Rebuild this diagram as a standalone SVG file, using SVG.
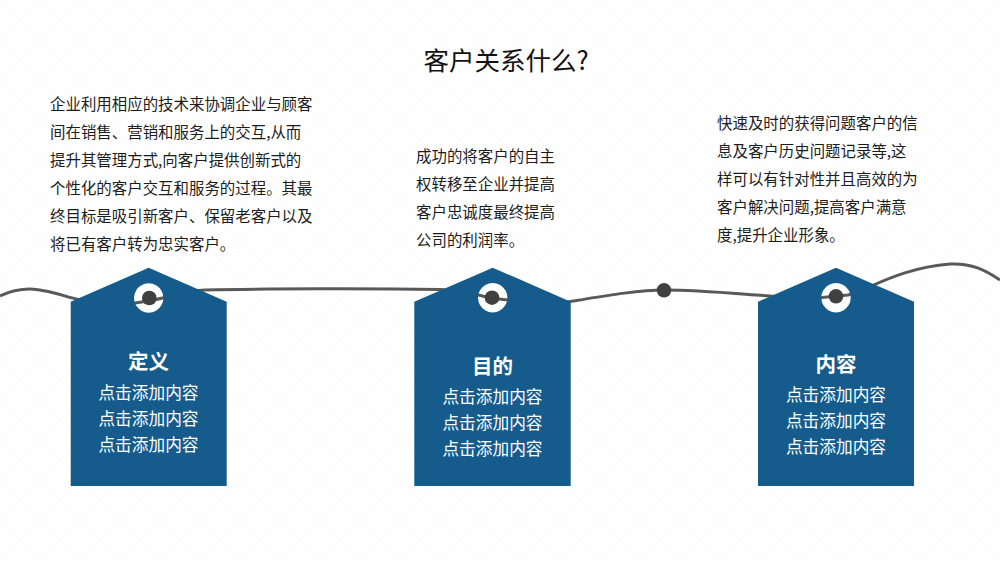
<svg xmlns="http://www.w3.org/2000/svg" width="1000" height="563" viewBox="0 0 1000 563">
<style>
text{font-family:"Noto Sans CJK SC","Liberation Sans",sans-serif}
.title{font-size:25.5px;fill:#111;text-anchor:middle}
.body{font-size:15.45px;fill:#1c1c1c}
.head{font-size:20.5px;font-weight:700;fill:#fff;text-anchor:middle}
.sub{font-size:16.7px;fill:#fff;text-anchor:middle}
.tag{fill:#155c8c;fill-rule:evenodd}
.hole{fill:#fff}
.dot{fill:#404040}
.wire{fill:none;stroke:#595959;stroke-width:3}
</style>
<defs>
<pattern id="lattice" width="40" height="40" patternUnits="userSpaceOnUse">
<path d="M0 0L40 40M40 0L0 40" stroke="#fafafa" stroke-width="1" fill="none"/>
</pattern>
</defs>
<rect width="1000" height="563" fill="#fff"/>
<rect width="1000" height="563" fill="url(#lattice)"/>
<text class="title" x="506" y="70">客户关系什么?</text>
<g id="text-left" class="body">
<text x="50" y="110">企业利用相应的技术来协调企业与顾客</text>
<text x="50" y="138">间在销售、营销和服务上的交互,从而</text>
<text x="50" y="166">提升其管理方式,向客户提供创新式的</text>
<text x="50" y="194">个性化的客户交互和服务的过程。其最</text>
<text x="50" y="222">终目标是吸引新客户、保留老客户以及</text>
<text x="50" y="250">将已有客户转为忠实客户。</text>
</g>
<g id="text-middle" class="body">
<text x="416" y="162">成功的将客户的自主</text>
<text x="416" y="190">权转移至企业并提高</text>
<text x="416" y="218">客户忠诚度最终提高</text>
<text x="416" y="246">公司的利润率。</text>
</g>
<g id="text-right" class="body">
<text x="717" y="129">快速及时的获得问题客户的信</text>
<text x="717" y="157">息及客户历史问题记录等,这</text>
<text x="717" y="185">样可以有针对性并且高效的为</text>
<text x="717" y="213">客户解决问题,提高客户满意</text>
<text x="717" y="241">度,提升企业形象。</text>
</g>
<circle class="hole" cx="148.700" cy="298" r="14.700"/>
<circle class="hole" cx="492.700" cy="297.700" r="14.700"/>
<circle class="hole" cx="836" cy="297.700" r="14.700"/>
<g id="connectors">
<path class="wire" d="M0 296C10 291 20 289 30 289C45 289 60 295 80 300C100 305 120 305 135 303C150 301 160 299 170 296C180 292 190 290.500 205 290C260 288.500 380 288.500 440 289.500C465 290 480 296 492 298C520 302 545 303 570 301.500C610 295 640 290 664 290C700 290 740 294 770 296C790 298 805 298 822 297.500L848 295C870 289 900 268 950 264C972 263 985 270 1000 280"/>
</g>
<g id="node-1">
<path class="tag" d="M148.700 267.700L226.700 301.700V486H70.700V301.700ZM148.700 283.300a14.700 14.700 0 1 0 0.010 0Z"/>
<circle class="dot" cx="149.300" cy="298" r="7.300"/>
<text class="head" x="148.500" y="369">定义</text>
<text class="sub" x="148.500" y="399">点击添加内容</text>
<text class="sub" x="148.500" y="425">点击添加内容</text>
<text class="sub" x="148.500" y="451">点击添加内容</text>
</g>
<g id="node-2">
<path class="tag" d="M492.700 267.700L570.700 301.700V486H414.300V301.700ZM492.700 283a14.700 14.700 0 1 0 0.010 0Z"/>
<circle class="dot" cx="492" cy="297.700" r="7.300"/>
<text class="head" x="492.500" y="374">目的</text>
<text class="sub" x="492.500" y="403">点击添加内容</text>
<text class="sub" x="492.500" y="429">点击添加内容</text>
<text class="sub" x="492.500" y="455">点击添加内容</text>
</g>
<circle id="node-mid" class="dot" cx="664" cy="290.300" r="7.300"/>
<g id="node-3">
<path class="tag" d="M836 267.700L914 301.700V486H758V301.700ZM836 283a14.700 14.700 0 1 0 0.010 0Z"/>
<circle class="dot" cx="836" cy="296.300" r="7.300"/>
<text class="head" x="836" y="372">内容</text>
<text class="sub" x="836" y="401">点击添加内容</text>
<text class="sub" x="836" y="427">点击添加内容</text>
<text class="sub" x="836" y="453">点击添加内容</text>
</g>
</svg>
